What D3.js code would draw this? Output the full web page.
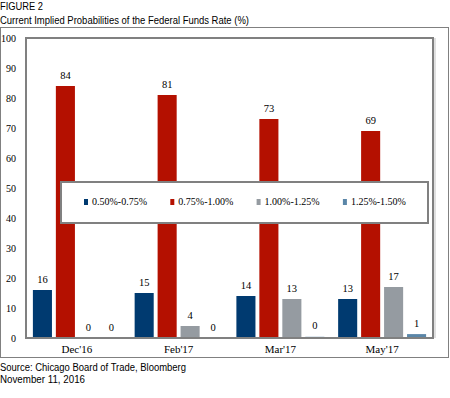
<!DOCTYPE html>
<html>
<head>
<meta charset="utf-8">
<script src="https://cdn.jsdelivr.net/npm/d3@7"></script>
<style>
  body { margin: 0; background: #fff; }
  text { fill: #000; }
</style>
</head>
<body>
<div id="chart"></div>
<script>
// data
var months = ["Dec'16", "Feb'17", "Mar'17", "May'17"];
var ranges = ["0.50%-0.75%", "0.75%-1.00%", "1.00%-1.25%", "1.25%-1.50%"];
var r050 = [16, 15, 14, 13];
var r075 = [84, 81, 73, 69];
var r100 = [0, 4, 13, 17];
var r125 = [0, 0, 0.4, 1.3];
var yTicks = [0, 10, 20, 30, 40, 50, 60, 70, 80, 90, 100];
var barColors = ["#003a70", "#b41000", "#959ba1", "#5a86a8"];

var width = 450, height = 398;
var margin = {top: 38, bottom: 60, left: 26, right: 17};

var series = [r050, r075, r100, r125];
var rows = [];
months.forEach(function (m, i) {
  series.forEach(function (s, j) {
    rows.push({month: m, range: ranges[j], value: s[i]});
  });
});

var svg = d3.select("#chart")
  .append("svg")
  .attr("width", width)
  .attr("height", height);

// headers
svg.append("text")
  .attr("x", 0).attr("y", 10)
  .text("FIGURE 2")
  .style("font-family", "Liberation Sans")
  .style("font-size", "10px")
  .attr("textLength", 43).attr("lengthAdjust", "spacingAndGlyphs");

svg.append("text")
  .attr("x", 0).attr("y", 23.5)
  .text("Current Implied Probabilities of the Federal Funds Rate (%)")
  .style("font-family", "Liberation Sans")
  .style("font-size", "10px")
  .attr("textLength", 249).attr("lengthAdjust", "spacingAndGlyphs");

// outer box
svg.append("rect")
  .attr("x", 0.5).attr("y", 27.5)
  .attr("width", 448).attr("height", 330)
  .attr("fill", "none")
  .attr("stroke", "#808080");

var x0 = d3.scaleBand()
  .domain(months)
  .range([margin.left, width - margin.right]);

var x1 = d3.scaleBand()
  .domain(ranges)
  .range([0, x0.bandwidth()])
  .paddingInner(0.17)
  .paddingOuter(0.3);

var y = d3.scaleLinear()
  .domain([0, 100])
  .range([height - margin.bottom, margin.top]);

// y tick labels
svg.append("g")
  .attr("transform", `translate(${margin.left},0)`)
  .call(d3.axisLeft(y).tickValues(yTicks).tickSize(0).tickPadding(10))
  .call(g => g.select(".domain").remove())
  .selectAll("text")
    .style("font-family", "Liberation Serif")
    .style("font-size", "10px")
    .attr("fill", "#000");

// plot frame
svg.append("line")
  .attr("x1", x0.range()[1] + 2).attr("x2", x0.range()[1] + 2)
  .attr("y1", y(100)).attr("y2", y(0))
  .attr("stroke", "#d6d6d6").attr("stroke-width", 1.5);
svg.append("rect")
  .attr("x", margin.left).attr("y", y(100))
  .attr("width", x0.range()[1] - margin.left)
  .attr("height", y(0) - y(100))
  .attr("fill", "none")
  .attr("stroke", "#808080")
  .attr("stroke-width", 2);

// bars
var groups = svg.append("g").attr("class", "bars")
  .selectAll("g")
  .data(rows)
  .join("g");

groups.append("rect")
  .attr("x", d => x0(d.month) + x1(d.range))
  .attr("y", d => y(d.value))
  .attr("width", x1.bandwidth())
  .attr("height", d => y(0) - y(d.value))
  .attr("fill", d => barColors[ranges.indexOf(d.range)]);

groups.append("text")
  .attr("x", d => x0(d.month) + x1(d.range) + x1.bandwidth() / 2)
  .attr("y", d => y(d.value) - 7.5)
  .attr("text-anchor", "middle")
  .text(d => Math.round(d.value))
  .style("font-family", "Liberation Serif")
  .style("font-size", "10.5px");

// x axis labels
svg.append("g")
  .attr("transform", `translate(0,${y(0)})`)
  .call(d3.axisBottom(x0).tickSize(0).tickPadding(7))
  .call(g => g.select(".domain").remove())
  .selectAll("text")
    .style("font-family", "Liberation Serif")
    .style("font-size", "11px")
    .attr("fill", "#000");

// bottom axis line over the bars
svg.append("line")
  .attr("x1", margin.left).attr("x2", x0.range()[1])
  .attr("y1", y(0)).attr("y2", y(0))
  .attr("stroke", "#808080").attr("stroke-width", 2);

// legend
var legend = svg.append("g").attr("class", "legend");
legend.append("rect")
  .attr("x", 61).attr("y", 182)
  .attr("width", 367).attr("height", 41)
  .attr("fill", "#fff")
  .attr("stroke", "#808080")
  .attr("stroke-width", 2);

var lx = d3.scaleBand()
  .domain(ranges)
  .range([84, 84 + 4 * 86.3]);

var items = legend.selectAll("g.item")
  .data(ranges)
  .join("g")
  .attr("class", "item")
  .attr("transform", d => `translate(${lx(d)},199)`);

items.append("rect")
  .attr("width", 4).attr("height", 6)
  .attr("fill", (d, i) => barColors[i]);

items.append("text")
  .attr("x", 8).attr("y", 6)
  .text(d => d)
  .style("font-family", "Liberation Serif")
  .style("font-size", "10px");

// footnotes
svg.append("text")
  .attr("x", 0).attr("y", 370.5)
  .text("Source: Chicago Board of Trade, Bloomberg")
  .style("font-family", "Liberation Sans")
  .style("font-size", "10px")
  .attr("textLength", 186).attr("lengthAdjust", "spacingAndGlyphs");

svg.append("text")
  .attr("x", 0).attr("y", 382.7)
  .text("November 11, 2016")
  .style("font-family", "Liberation Sans")
  .style("font-size", "10px")
  .attr("textLength", 85).attr("lengthAdjust", "spacingAndGlyphs");
</script>
</body>
</html>
